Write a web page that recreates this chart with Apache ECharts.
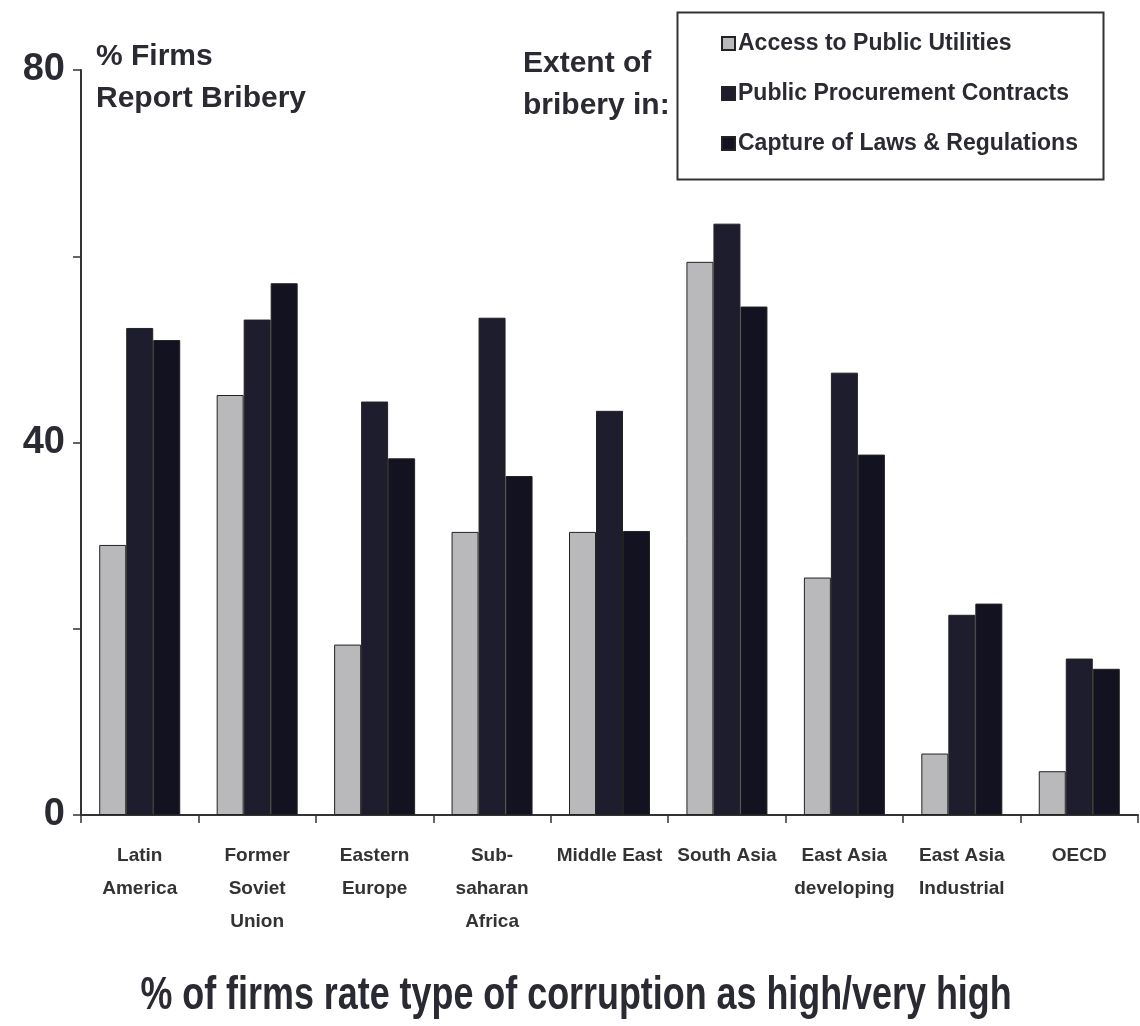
<!DOCTYPE html>
<html>
<head>
<meta charset="utf-8">
<script src="https://cdn.jsdelivr.net/npm/echarts@6.0.0/dist/echarts.min.js"></script>
<style>
  html, body { margin: 0; padding: 0; background: #fff; }
  #chart { width: 1140px; height: 1026px; }
</style>
</head>
<body>
<div id="chart"></div>
<script>
var regions = ['Latin\nAmerica', 'Former\nSoviet\nUnion', 'Eastern\nEurope', 'Sub-\nsaharan\nAfrica',
    'Middle East', 'South Asia', 'East Asia\ndeveloping', 'East Asia\nIndustrial', 'OECD'];
var utilities = [29.0, 45.1, 18.3, 30.4, 30.4, 59.4, 25.5, 6.6, 4.7];
var procurement = [52.3, 53.2, 44.4, 53.4, 43.4, 63.5, 47.5, 21.5, 16.8];
var capture = [51.0, 57.1, 38.3, 36.4, 30.5, 54.6, 38.7, 22.7, 15.7];
var yLabels = [0, 40, 80];

var FONT = "'Liberation Sans', Arial, sans-serif";
var INK = '#2a2a33';

var myChart = echarts.init(document.getElementById('chart'));

function barSeries(name, data, color) {
    return {
        name: name,
        type: 'bar',
        data: data,
        barWidth: 27,
        barGap: '0%',
        itemStyle: {
            color: color,
            borderColor: '#222',
            borderWidth: 1
        }
    };
}

myChart.setOption({
    backgroundColor: '#fff',
    animation: false,
    grid: {
        left: 81,
        right: 2,
        top: 70,
        bottom: 211,
        containLabel: false,
        outerBoundsMode: 'none'
    },
    legend: {
        orient: 'vertical',
        left: 716,
        top: 27,
        itemWidth: 13,
        itemHeight: 13,
        itemGap: 27,
        icon: 'rect',
        textStyle: {
            fontFamily: FONT,
            fontSize: 23,
            fontWeight: 'bold',
            color: INK,
            padding: [0, 0, 0, -2]
        },
        data: ['Access to Public Utilities', 'Public Procurement Contracts', 'Capture of Laws & Regulations']
    },
    xAxis: {
        type: 'category',
        data: regions,
        axisLine: { lineStyle: { color: '#333', width: 2 } },
        axisTick: { show: true, length: 8, lineStyle: { color: '#333', width: 1.5 } },
        axisLabel: {
            interval: 0,
            margin: 24,
            fontFamily: FONT,
            fontSize: 19,
            fontWeight: 'bold',
            color: '#333',
            lineHeight: 33
        }
    },
    yAxis: {
        type: 'value',
        min: 0,
        max: 80,
        interval: 20,
        splitLine: { show: false },
        axisLine: { show: true, lineStyle: { color: '#333', width: 2 } },
        axisTick: { show: true, length: 8, lineStyle: { color: '#333', width: 1.5 } },
        axisLabel: {
            margin: 16,
            fontFamily: FONT,
            fontSize: 38,
            fontWeight: 'bold',
            color: INK,
            formatter: function (v) {
                return yLabels.indexOf(v) >= 0 ? String(v) : '';
            }
        }
    },
    series: [
        barSeries('Access to Public Utilities', utilities, '#b9b9bc'),
        barSeries('Public Procurement Contracts', procurement, '#1d1d2e'),
        barSeries('Capture of Laws & Regulations', capture, '#121220')
    ],
    graphic: [
        {
            type: 'rect',
            left: 675,
            top: 10,
            shape: { width: 426, height: 167 },
            style: { fill: 'none', stroke: '#333', lineWidth: 2 }
        },
        {
            type: 'text',
            left: 96,
            top: 36,
            style: {
                text: '% Firms\nReport Bribery',
                font: 'bold 30px ' + FONT,
                lineHeight: 42,
                fill: INK
            }
        },
        {
            type: 'text',
            left: 523,
            top: 43,
            style: {
                text: 'Extent of\nbribery in:',
                font: 'bold 30px ' + FONT,
                lineHeight: 42,
                fill: INK
            }
        },
        {
            // x axis title, squeezed to look like the narrow original face
            type: 'text',
            x: 576,
            y: 996,
            scaleX: 0.78,
            style: {
                text: '% of firms rate type of corruption as high/very high',
                font: 'bold 46px ' + FONT,
                textAlign: 'center',
                textVerticalAlign: 'middle',
                fill: INK
            }
        }
    ]
});
</script>
</body>
</html>
